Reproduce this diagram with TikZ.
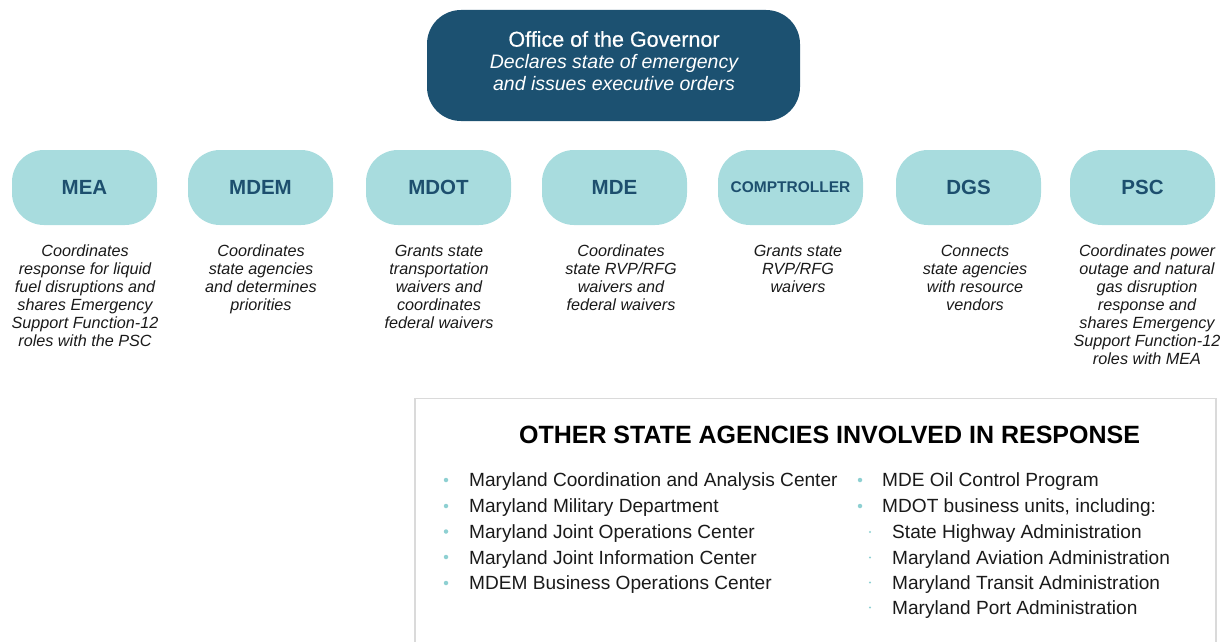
\documentclass[tikz,border=0pt]{standalone}
\usepackage{fontspec}
\setmainfont{Liberation Sans}
\newfontfamily\medfont[FakeBold=0.6]{Liberation Sans}
\definecolor{govblue}{HTML}{1C5171}
\definecolor{pillfill}{HTML}{A8DCDE}
\definecolor{pilltext}{HTML}{1D4F6E}
\definecolor{bulletc}{HTML}{8ED0D2}
\definecolor{boxline}{HTML}{DADADA}
\definecolor{desctext}{HTML}{1A1A1A}
\tikzset{
  govbox/.style={rectangle, rounded corners=34pt, fill=govblue, minimum width=373pt, minimum height=111pt, inner sep=0pt},
  govtext/.style={anchor=base, inner sep=0pt, text=white},
  pill/.style={rectangle, rounded corners=32pt, fill=pillfill, minimum width=145pt, minimum height=75pt, inner sep=0pt,
    text=pilltext, font=\fontsize{20.5}{24}\selectfont\bfseries},
  desc/.style={anchor=north, inner sep=0pt, align=center, text=desctext, font=\fontsize{16.2}{18}\selectfont\itshape},
  item/.style={anchor=base west, inner sep=0pt, text=desctext, font=\fontsize{19.1}{22}\selectfont},
  bul/.style={circle, fill=bulletc, inner sep=0pt, minimum size=4.5pt},
  subbul/.style={circle, fill=bulletc, inner sep=0pt, minimum size=2.2pt},
}
\begin{document}
\begin{tikzpicture}[x=1pt,y=-1pt]
\useasboundingbox (0,0) rectangle (1223,642);
% Governor
\node[govbox] (gov) at (613.5,65.5) {};
\node[govtext, font=\medfont\fontsize{21.5}{24}\selectfont] (govt) at (614,46.7) {Office of the Governor};
\node[govtext, font=\fontsize{19.5}{22}\selectfont\itshape] (govl1) at (614,69) {Declares state of emergency};
\node[govtext, font=\fontsize{19.5}{22}\selectfont\itshape] (govl2) at (614,90.7) {and issues executive orders};
% Agencies
\node[pill] (mea) at (84.5,187.5) {MEA};
\node[pill] (mdem) at (260.5,187.5) {MDEM};
\node[pill] (mdot) at (438.5,187.5) {MDOT};
\node[pill] (mde) at (614.5,187.5) {MDE};
\node[pill, font=\fontsize{15.5}{18}\selectfont\bfseries] (comp) at (790.5,187.5) {COMPTROLLER};
\node[pill] (dgs) at (968.5,187.5) {DGS};
\node[pill] (psc) at (1142.5,187.5) {PSC};
% Descriptions
\node[desc] (dmea) at (85,245) {Coordinates\\response for liquid\\fuel disruptions and\\shares Emergency\\Support Function-12\\roles with the PSC};
\node[desc] (dmdem) at (261,245) {Coordinates\\state agencies\\and determines\\priorities};
\node[desc] (dmdot) at (439,245) {Grants state\\transportation\\waivers and\\coordinates\\federal waivers};
\node[desc] (dmde) at (621,245) {Coordinates\\state RVP/RFG\\waivers and\\federal waivers};
\node[desc] (dcomp) at (798,245) {Grants state\\RVP/RFG\\waivers};
\node[desc] (ddgs) at (975,245) {Connects\\state agencies\\with resource\\vendors};
\node[desc] (dpsc) at (1147,245) {Coordinates power\\outage and natural\\gas disruption\\response and\\shares Emergency\\Support Function-12\\roles with MEA};
% Other agencies box
\draw[boxline, line width=1.5pt] (415,660) -- (415,398.5) -- (1216,398.5) -- (1216,660);
\node[anchor=base, inner sep=0pt, font=\fontsize{25}{28}\selectfont\bfseries, text=black] (otitle) at (829.5,443.3) {OTHER STATE AGENCIES INVOLVED IN RESPONSE};
% left column
\node[bul] (b1) at (446,480) {};
\node[item] (i1) at (469,486.7) {Maryland Coordination and Analysis Center};
\node[bul] (b2) at (446,506) {};
\node[item] (i2) at (469,512.7) {Maryland Military Department};
\node[bul] (b3) at (446,531.5) {};
\node[item] (i3) at (469,538.3) {Maryland Joint Operations Center};
\node[bul] (b4) at (446,557) {};
\node[item] (i4) at (469,564) {Maryland Joint Information Center};
\node[bul] (b5) at (446,583) {};
\node[item] (i5) at (469,589.7) {MDEM Business Operations Center};
% right column
\node[bul] (b6) at (860,480) {};
\node[item] (i6) at (882,486.7) {MDE Oil Control Program};
\node[bul] (b7) at (860,506) {};
\node[item] (i7) at (882,512.7) {MDOT business units, including:};
\node[subbul] (s1) at (870,532) {};
\node[item] (j1) at (892,538.3) {State Highway Administration};
\node[subbul] (s2) at (870,557.5) {};
\node[item] (j2) at (892,564) {Maryland Aviation Administration};
\node[subbul] (s3) at (870,582.5) {};
\node[item] (j3) at (892,589) {Maryland Transit Administration};
\node[subbul] (s4) at (870,607.5) {};
\node[item] (j4) at (892,614) {Maryland Port Administration};
\end{tikzpicture}
\end{document}
